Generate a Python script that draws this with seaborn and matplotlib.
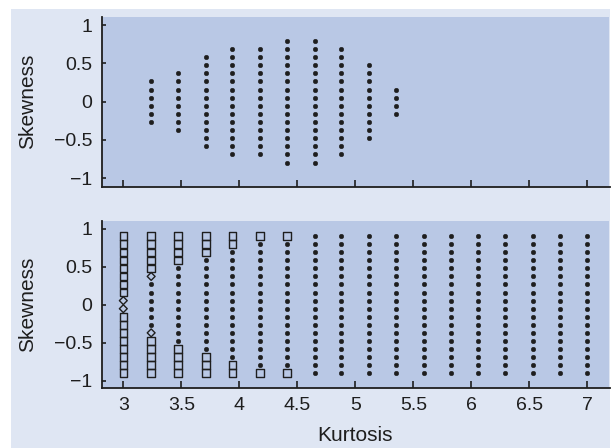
import matplotlib
matplotlib.use("Agg")
import matplotlib.pyplot as plt
import seaborn as sns
import pandas as pd
from matplotlib.patches import Rectangle

# ---- data ----
kurtosis = [3.00, 3.24, 3.47, 3.71, 3.94, 4.18, 4.41, 4.65, 4.88,
            5.12, 5.35, 5.59, 5.82, 6.06, 6.29, 6.53, 6.76, 7.00]
skewness = [-0.900, -0.794, -0.688, -0.582, -0.476, -0.371, -0.265, -0.159, -0.053,
            0.053, 0.159, 0.265, 0.371, 0.476, 0.582, 0.688, 0.794, 0.900]

# top panel: columns and maximum |skewness| reached in each column
top_kurtosis = [3.24, 3.47, 3.71, 3.94, 4.18, 4.41, 4.65, 4.88, 5.12, 5.35]
top_skew_max = [0.265, 0.371, 0.582, 0.688, 0.688, 0.794, 0.794, 0.688, 0.476, 0.159]

# bottom panel: number of square-marked points at each end of every column
square_count = [8, 5, 4, 3, 2, 1, 1, 0, 0, 0, 0, 0, 0, 0, 0, 0, 0, 0]
# diamond-marked points (kurtosis, skewness)
diamond_kurt = [3.00, 3.00, 3.24, 3.24]
diamond_skew = [-0.053, 0.053, -0.371, 0.371]

yticks = [-1, -0.5, 0, 0.5, 1]
ytick_labels = ["\u22121", "\u22120.5", "0", "0.5", "1"]
xticks = [3, 3.5, 4, 4.5, 5, 5.5, 6, 6.5, 7]
xtick_labels = ["3", "3.5", "4", "4.5", "5", "5.5", "6", "6.5", "7"]

# ---- build tables ----
top_rows = []
for k, m in zip(top_kurtosis, top_skew_max):
    for s in skewness:
        if abs(s) <= m + 1e-9:
            top_rows.append((k, s))
top_df = pd.DataFrame(top_rows, columns=["Kurtosis", "Skewness"])

diamond_set = set(zip(diamond_kurt, diamond_skew))
dots, squares = [], []
for k, n in zip(kurtosis, square_count):
    for j, s in enumerate(skewness):
        if (k, s) in diamond_set:
            continue
        if j < n or j >= len(skewness) - n:
            squares.append((k, s))
        else:
            dots.append((k, s))
dot_df = pd.DataFrame(dots, columns=["Kurtosis", "Skewness"])
sq_df = pd.DataFrame(squares, columns=["Kurtosis", "Skewness"])
dia_df = pd.DataFrame({"Kurtosis": diamond_kurt, "Skewness": diamond_skew})

# ---- style ----
sns.set_style("ticks")
plt.rcParams["font.family"] = ["Liberation Sans", "DejaVu Sans"]
plt.rcParams["font.size"] = 14

light_bg = "#dfe6f3"
axes_bg = "#b9c8e5"
ink = "#1e1e1e"

fig = plt.figure(figsize=(6.11, 4.48), dpi=100, facecolor="white")
bg = Rectangle((11 / 611, 0), (609.5 - 11) / 611, (448 - 9) / 448,
               transform=fig.transFigure, facecolor=light_bg,
               edgecolor="none", zorder=-10)
fig.add_artist(bg)

left = 101.5 / 611
width = (609.5 - 101.5) / 611
ax1 = fig.add_axes([left, 1 - 186.7 / 448, width, (186.7 - 16.7) / 448])
ax2 = fig.add_axes([left, 1 - 388.3 / 448, width, (388.3 - 221.0) / 448])

sns.scatterplot(data=top_df, x="Kurtosis", y="Skewness", ax=ax1, marker="o",
                s=11, color=ink, edgecolor=ink, linewidth=0.3, zorder=3)
sns.scatterplot(data=dot_df, x="Kurtosis", y="Skewness", ax=ax2, marker="o",
                s=11, color=ink, edgecolor=ink, linewidth=0.3, zorder=3)
sns.scatterplot(data=sq_df, x="Kurtosis", y="Skewness", ax=ax2, marker="s",
                s=30, facecolor="none", edgecolor=ink, linewidth=1.0, zorder=4)
sns.scatterplot(data=dia_df, x="Kurtosis", y="Skewness", ax=ax2, marker="D",
                s=16, facecolor="none", edgecolor=ink, linewidth=1.0, zorder=4)

for ax, ylim in ((ax1, (-1.11, 1.11)), (ax2, (-1.10, 1.10))):
    ax.set_facecolor(axes_bg)
    ax.set_xlim(2.812, 7.19)
    ax.set_ylim(*ylim)
    ax.set_yticks(yticks, ytick_labels)
    ax.set_xticks(xticks)
    for side in ("top", "right"):
        ax.spines[side].set_visible(False)
    for side in ("left", "bottom"):
        ax.spines[side].set_color(ink)
        ax.spines[side].set_linewidth(1.3)
    ax.tick_params(axis="y", direction="in", length=3, width=1.2, color=ink,
                   labelsize=14, labelcolor=ink, pad=6.5)
    ax.tick_params(axis="x", direction="in", length=5, width=1.2, color=ink,
                   labelsize=14, labelcolor=ink, pad=6.5)
    ax.set_ylabel("Skewness", fontsize=15, color=ink)
    ax.yaxis.set_label_coords(-0.126, 0.5)

ax1.set_xlabel("")
ax1.tick_params(axis="x", labelbottom=False)
ax2.set_xticks(xticks, xtick_labels)
ax2.set_xlabel("Kurtosis", fontsize=15, color=ink)
ax2.xaxis.set_label_coords(0.5, -0.225)

fig.savefig("out.png", dpi=100, facecolor="white")
